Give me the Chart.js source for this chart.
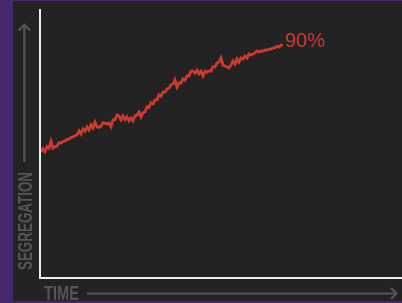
<!DOCTYPE html>
<html>
<head>
<meta charset="utf-8">
<title>Segregation over time</title>
<script src="https://cdn.jsdelivr.net/npm/chart.js@4"></script>
<style>
  html, body { margin: 0; padding: 0; background: #45286e; }
  canvas { display: block; }
</style>
</head>
<body>
<canvas id="chart-segregation" width="402" height="303"></canvas>
<script>
// segregation level (%), one reading per time step
var segregation = [
  48.7, 50.0, 48.8, 50.8, 50.2, 52.9, 50.2, 50.8, 51.0, 52.3,
  52.2, 52.8, 53.0, 53.6, 53.7, 54.3, 54.5, 55.0, 55.3, 56.9,
  55.7, 57.6, 56.8, 58.4, 57.2, 59.2, 58.0, 60.3, 58.4, 58.3,
  58.7, 60.0, 59.9, 59.5, 59.9, 58.5, 61.1, 61.2, 63.0, 62.6,
  61.1, 62.6, 61.2, 62.3, 60.8, 61.9, 60.8, 62.7, 63.0, 64.2,
  62.3, 63.9, 64.2, 66.2, 66.0, 67.8, 67.3, 68.9, 68.9, 70.8,
  70.3, 71.9, 71.9, 73.1, 73.4, 74.7, 75.0, 76.6, 73.8, 75.5,
  75.4, 77.0, 76.5, 78.2, 78.1, 80.0, 80.0, 79.2, 80.4, 78.9,
  80.0, 78.1, 80.0, 79.6, 80.0, 80.0, 81.7, 81.6, 83.1, 83.5,
  85.1, 82.3, 82.0, 81.6, 81.2, 82.3, 83.9, 82.7, 84.7, 83.5,
  85.1, 84.7, 85.8, 85.0, 86.6, 86.2, 86.6, 87.0, 87.8, 87.4,
  87.8, 87.7, 88.2, 88.1, 88.5, 88.5, 88.9, 89.0, 89.6, 89.3,
  90.0, 90.0
];
var endLabel = '90%';
var yAxisTitle = 'SEGREGATION';
var xAxisTitle = 'TIME';

var colors = {
  frame: '#45286e',
  bg: '#232323',
  axis: '#ececec',
  muted: '#555555',
  red: '#cf3a2e'
};

(function () {
  'use strict';

  function drawSquashed(ctx, text, cx, cy, width, vertical) {
    ctx.save();
    ctx.font = 'bold 20px "Liberation Sans", Arial, sans-serif';
    var w = ctx.measureText(text).width;
    ctx.translate(cx, cy);
    if (vertical) ctx.rotate(-Math.PI / 2);
    ctx.scale(width / w, 1);
    ctx.fillStyle = colors.muted;
    ctx.textAlign = 'center';
    ctx.textBaseline = 'alphabetic';
    ctx.fillText(text, 0, 7.2);
    ctx.restore();
  }

  var decor = {
    id: 'decor',
    beforeDraw: function (chart) {
      var ctx = chart.ctx;
      ctx.save();
      ctx.fillStyle = colors.frame;
      ctx.fillRect(0, 0, chart.width, chart.height);
      ctx.fillStyle = colors.bg;
      ctx.fillRect(13, 1, chart.width - 13, chart.height - 3);
      ctx.restore();
    },
    afterDraw: function (chart) {
      var ctx = chart.ctx;
      var a = chart.chartArea;
      ctx.save();

      // axes
      ctx.strokeStyle = colors.axis;
      ctx.lineWidth = 2;
      ctx.beginPath();
      ctx.moveTo(a.left, a.top);
      ctx.lineTo(a.left, a.bottom);
      ctx.lineTo(a.right, a.bottom);
      ctx.stroke();

      // arrows
      ctx.strokeStyle = colors.muted;
      ctx.lineWidth = 2.2;
      ctx.beginPath();
      ctx.moveTo(24.3, 162);
      ctx.lineTo(24.3, 25);
      ctx.moveTo(18.5, 30.5);
      ctx.lineTo(24.3, 24.7);
      ctx.lineTo(30.1, 30.5);
      ctx.moveTo(87, 293.5);
      ctx.lineTo(396.5, 293.5);
      ctx.moveTo(391, 288);
      ctx.lineTo(396.5, 293.5);
      ctx.lineTo(391, 299);
      ctx.stroke();
      ctx.restore();

      drawSquashed(ctx, yAxisTitle, 24.5, 221, 98, true);
      drawSquashed(ctx, xAxisTitle, 61.5, 293, 35, false);

      // end label next to the last point
      var meta = chart.getDatasetMeta(0);
      var last = meta.data[meta.data.length - 1];
      ctx.save();
      ctx.font = '20px "Liberation Sans", Arial, sans-serif';
      ctx.fillStyle = colors.red;
      ctx.textAlign = 'left';
      ctx.textBaseline = 'alphabetic';
      ctx.fillText(endLabel, last.x + 2, last.y + 1.5);
      ctx.restore();
    }
  };

  var ctx = document.getElementById('chart-segregation');
  new Chart(ctx, {
    type: 'line',
    data: {
      datasets: [{
        data: segregation.map(function (v, i) { return { x: i, y: v }; }),
        borderColor: colors.red,
        borderWidth: 2.8,
        pointRadius: 0,
        tension: 0,
        fill: false
      }]
    },
    options: {
      responsive: false,
      animation: false,
      devicePixelRatio: 1,
      layout: { padding: { left: 40, top: 9, right: 0, bottom: 25 } },
      plugins: { legend: { display: false }, tooltip: { enabled: false } },
      scales: {
        x: { type: 'linear', display: false, min: -0.5, max: 180.5 },
        y: { display: false, min: 0, max: 104 }
      }
    },
    plugins: [decor]
  });
})();
</script>
</body>
</html>
